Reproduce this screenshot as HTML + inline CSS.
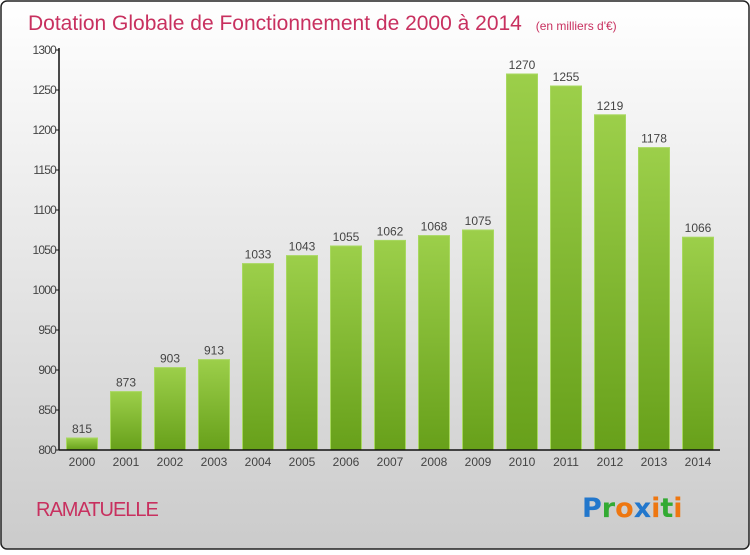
<!DOCTYPE html>
<html><head><meta charset="utf-8"><style>
html,body{margin:0;padding:0;}
body{width:750px;height:550px;overflow:hidden;font-family:"Liberation Sans",sans-serif;}
</style></head><body>
<svg width="750" height="550" xmlns="http://www.w3.org/2000/svg">
<defs>
<linearGradient id="bg" x1="0" y1="0" x2="0" y2="1"><stop offset="0" stop-color="#ffffff"/><stop offset="1" stop-color="#cbcbcb"/></linearGradient>
<linearGradient id="bar" x1="0" y1="0" x2="0" y2="1"><stop offset="0" stop-color="#9ccf4a"/><stop offset="1" stop-color="#67a01a"/></linearGradient>
</defs>
<rect x="1" y="1" width="748" height="548" rx="6" fill="url(#bg)" stroke="#222" stroke-width="1.5"/>
<text x="28" y="30" font-size="21" fill="#c8305f">Dotation Globale de Fonctionnement de 2000 à 2014 <tspan font-size="12" dx="8">(en milliers d'€)</tspan></text>
<g id="plot"></g>
<text x="36" y="516" font-size="20" fill="#c8305f" style="letter-spacing:-1px">RAMATUELLE</text>
<g font-size="27" font-weight="bold" font-family="'DejaVu Sans',sans-serif">
<text x="582" y="517"><tspan fill="#2277cc">P</tspan><tspan fill="#33aa33">r</tspan><tspan fill="#ee7711">o</tspan><tspan fill="#2277cc">x</tspan><tspan fill="#ee7711">i</tspan><tspan fill="#33aa33">t</tspan><tspan fill="#ee7711">i</tspan></text>
</g>
</svg>
<script>
const years=["2000","2001","2002","2003","2004","2005","2006","2007","2008","2009","2010","2011","2012","2013","2014"];
const values=[815,873,903,913,1033,1043,1055,1062,1068,1075,1270,1255,1219,1178,1066];
const yTicks=[800,850,900,950,1000,1050,1100,1150,1200,1250,1300];
const NS="http://www.w3.org/2000/svg";
const g=document.getElementById('plot');
const yMin=800,yMax=1300,plotTop=50,plotBot=450,plotLeft=59,plotRight=720;
const yS=v=>plotBot-(v-yMin)/(yMax-yMin)*(plotBot-plotTop);
const xS=i=>82+i*44;
function mk(t,a){const e=document.createElementNS(NS,t);for(const k in a)e.setAttribute(k,a[k]);g.appendChild(e);return e;}
values.forEach((v,i)=>{
 const r=mk('rect',{x:xS(i)-15.5,y:yS(v),width:31,height:plotBot-yS(v),fill:'url(#bar)',stroke:'#a8d860','stroke-width':1});
 
 
 const t=mk('text',{x:xS(i),y:yS(v)-5,'font-size':12,'text-anchor':'middle',fill:'#444'});
 t.textContent=v;
 
 
 const xl=mk('text',{x:xS(i),y:plotBot+16,'font-size':12,'text-anchor':'middle',fill:'#444'});
 xl.textContent=years[i];
 
 
});
yTicks.forEach(v=>{
 const tk=mk('line',{x1:plotLeft-4,x2:plotLeft,y1:yS(v),y2:yS(v),stroke:'#111'});
 
 
 const t=mk('text',{x:plotLeft-3,y:yS(v)+4,'font-size':12,'text-anchor':'end',fill:'#444','letter-spacing':'-0.8'});
 t.textContent=v;
 
 
});
const ya=mk('line',{x1:plotLeft,x2:plotLeft,y1:plotTop-2,y2:plotBot,stroke:'#111','stroke-width':1.5});


const xa=mk('line',{x1:plotLeft,x2:plotRight,y1:plotBot,y2:plotBot,stroke:'#111','stroke-width':1.5});


</script>
</body></html>
